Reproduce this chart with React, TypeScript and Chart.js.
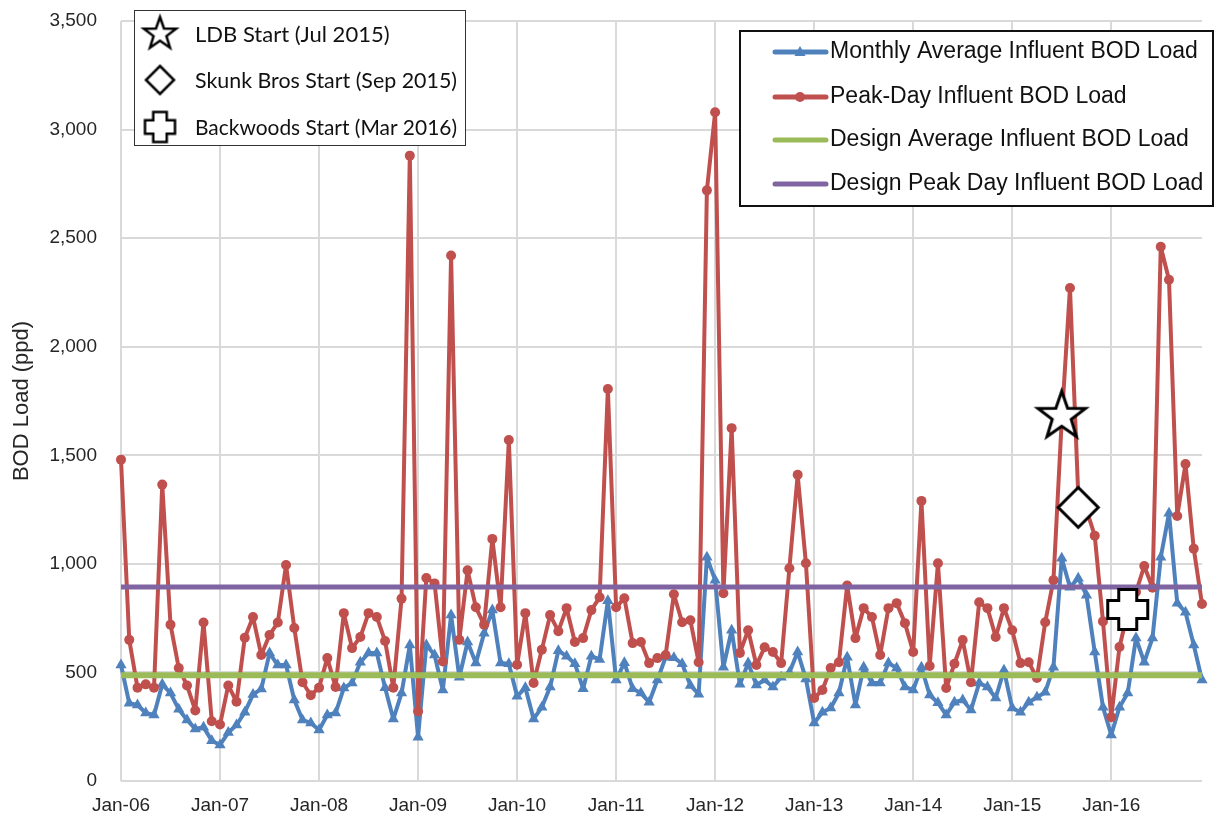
import React, { useEffect, useRef } from 'react';
import { Chart, registerables } from 'chart.js';

Chart.register(...registerables);

// ---------- data ----------
const tickMonths = [0, 12, 24, 36, 48, 60, 72, 84, 96, 108, 120];
const tickLabels = ['Jan-06', 'Jan-07', 'Jan-08', 'Jan-09', 'Jan-10', 'Jan-11', 'Jan-12', 'Jan-13', 'Jan-14', 'Jan-15', 'Jan-16'];

// Monthly Average Influent BOD Load (Jan 2006 .. Dec 2016)
const monthlyAvg = [
  534, 358, 350, 313, 304, 445, 405, 330, 281, 240, 248, 185,
  166, 223, 258, 317, 398, 424, 589, 534, 534, 373, 281, 267,
  235, 304, 313, 428, 451, 547, 589, 589, 430, 285, 405, 626,
  202, 626, 580, 419, 764, 478, 640, 543, 680, 787, 543, 540,
  390, 430, 285, 340, 433, 600, 575, 540, 425, 575, 560, 830,
  465, 545, 425, 405, 363, 465, 570, 568, 540, 440, 400, 1030,
  925, 524, 694, 445, 543, 442, 465, 433, 478, 500, 594, 470,
  267, 317, 336, 405, 570, 350, 524, 451, 451, 543, 520, 433,
  419, 524, 396, 360, 304, 363, 373, 327, 451, 433, 382, 510,
  336, 317, 363, 386, 409, 524, 1026, 892, 934, 856, 594, 340,
  212, 340, 405, 658, 547, 658, 1030, 1233, 819, 777, 626, 465,
];

// Peak-Day Influent BOD Load
const peakDay = [
  1480, 650, 430, 445, 430, 1365, 720, 520, 440, 325, 730, 275,
  260, 440, 365, 660, 755, 580, 672, 730, 995, 705, 455, 395,
  430, 566, 433, 773, 612, 663, 773, 755, 645, 430, 840, 2880,
  320, 935, 910, 550, 2420, 650, 970, 800, 720, 1115, 800, 1570,
  535, 773, 451, 605, 764, 690, 796, 640, 658, 787, 846, 1805,
  800, 842, 635, 640, 543, 566, 580, 860, 731, 740, 547, 2720,
  3080, 865, 1625, 590, 694, 534, 616, 594, 543, 980, 1410, 1003,
  382, 419, 520, 547, 900, 658, 796, 755, 580, 796, 819, 727,
  594, 1290, 530, 1003, 428, 540, 649, 455, 823, 796, 663, 796,
  694, 543, 547, 474, 731, 925, 1660, 2270, 1320, 1250, 1130, 735,
  294, 617, 777, 870, 990, 890, 2460, 2308, 1220, 1460, 1070, 815,
];

const designAvg = 487;
const designPeak = 893;

const seriesNames = [
  'Monthly Average Influent BOD Load',
  'Peak-Day Influent BOD Load',
  'Design Average Influent BOD Load',
  'Design Peak Day Influent BOD Load',
];
const seriesColors = ['#4F81BD', '#C0504D', '#9BBB59', '#8064A2'];

const eventNames = ['LDB Start (Jul 2015)', 'Skunk Bros Start (Sep 2015)', 'Backwoods Start (Mar 2016)'];
const eventShapes = ['star', 'diamond', 'cross'];
const eventMonths = [114, 116, 122];
const eventValues = [1680, 1260, 790];

// ---------- icon drawing ----------
function tracePath(ctx: CanvasRenderingContext2D, shape: string, cx: number, cy: number, s: number) {
  ctx.beginPath();
  if (shape === 'star') {
    const r = s * 0.4;
    for (let k = 0; k < 10; k++) {
      const a = -Math.PI / 2 + (k * Math.PI) / 5;
      const rr = k % 2 ? r : s;
      const px = cx + rr * Math.cos(a);
      const py = cy + rr * Math.sin(a);
      if (k === 0) ctx.moveTo(px, py);
      else ctx.lineTo(px, py);
    }
  } else if (shape === 'diamond') {
    ctx.moveTo(cx, cy - s);
    ctx.lineTo(cx + s, cy);
    ctx.lineTo(cx, cy + s);
    ctx.lineTo(cx - s, cy);
  } else {
    const a = s * 0.45;
    const pts = [
      [-a, -s], [a, -s], [a, -a], [s, -a], [s, a], [a, a],
      [a, s], [-a, s], [-a, a], [-s, a], [-s, -a], [-a, -a],
    ];
    pts.forEach(([dx, dy], i) => {
      if (i === 0) ctx.moveTo(cx + dx, cy + dy);
      else ctx.lineTo(cx + dx, cy + dy);
    });
  }
  ctx.closePath();
}

function makeIcon(shape: string, s: number, lw: number): HTMLCanvasElement {
  const c = document.createElement('canvas');
  const size = Math.ceil(2 * s + 5 * lw + 2);
  c.width = size;
  c.height = size;
  const ctx = c.getContext('2d') as CanvasRenderingContext2D;
  tracePath(ctx, shape, size / 2, size / 2, s);
  ctx.fillStyle = '#ffffff';
  ctx.fill();
  ctx.lineWidth = lw;
  ctx.strokeStyle = '#000000';
  ctx.lineJoin = 'miter';
  ctx.stroke();
  return c;
}

const chartIconSize: Record<string, number> = { star: 25, diamond: 20, cross: 20 };
const legendIconSize: Record<string, number> = { star: 17, diamond: 14, cross: 15 };
const axisFont = '"Liberation Sans", Arial, sans-serif';

export default function App() {
  const ref = useRef<HTMLCanvasElement | null>(null);

  useEffect(() => {
    const canvas = ref.current;
    if (!canvas) return;
    document.body.style.margin = '0';

    const chartIcons = eventShapes.map((s) => makeIcon(s, chartIconSize[s], 3));
    const legendIcons = eventShapes.map((s) => makeIcon(s, legendIconSize[s], 2.5));

    const legendPlugin = {
      id: 'customLegends',
      afterDraw(chart: any) {
        const ctx: CanvasRenderingContext2D = chart.ctx;
        ctx.save();
        // ---- left legend (events) ----
        ctx.fillStyle = '#ffffff';
        ctx.fillRect(134, 10, 331, 136);
        ctx.strokeStyle = '#333333';
        ctx.lineWidth = 1;
        ctx.strokeRect(134.5, 10.5, 331, 135);
        const leftRows = [34, 80, 127];
        eventNames.forEach((name, i) => {
          const ic = legendIcons[i];
          ctx.drawImage(ic, 160 - ic.width / 2, leftRows[i] - ic.height / 2);
          ctx.fillStyle = '#111111';
          ctx.font = '22px Lato';
          ctx.textBaseline = 'middle';
          ctx.textAlign = 'left';
          ctx.fillText(name, 195, leftRows[i] + 1, 262);
        });

        // ---- right legend (series) ----
        ctx.fillStyle = '#ffffff';
        ctx.fillRect(740, 31, 473, 175);
        ctx.strokeStyle = '#111111';
        ctx.lineWidth = 2;
        ctx.strokeRect(740, 31, 473, 175);
        const rightRows = [52, 97, 140, 184];
        seriesNames.forEach((name, i) => {
          const y = rightRows[i];
          ctx.strokeStyle = seriesColors[i];
          ctx.lineWidth = 5;
          ctx.lineCap = 'round';
          ctx.beginPath();
          ctx.moveTo(775, y);
          ctx.lineTo(826, y);
          ctx.stroke();
          ctx.fillStyle = seriesColors[i];
          if (i === 0) {
            ctx.beginPath();
            ctx.moveTo(800, y - 6);
            ctx.lineTo(805.5, y + 4);
            ctx.lineTo(794.5, y + 4);
            ctx.closePath();
            ctx.fill();
          } else if (i === 1) {
            ctx.beginPath();
            ctx.arc(800, y, 5, 0, Math.PI * 2);
            ctx.fill();
          }
          ctx.fillStyle = '#111111';
          ctx.font = '23px ' + axisFont;
          ctx.textBaseline = 'middle';
          ctx.textAlign = 'left';
          ctx.fillText(name, 830, y);
        });
        ctx.restore();
      },
    };

    const idx = monthlyAvg.map((_, i) => i);
    const lastMonth = monthlyAvg.length - 1;

    const eventDatasets = eventNames.map((name, i) => ({
      label: name,
      data: [{ x: eventMonths[i], y: eventValues[i] }],
      showLine: false,
      pointStyle: chartIcons[i] as any,
      pointRadius: 20,
      order: 1,
      clip: false as any,
    }));

    const chart = new Chart(canvas, {
      type: 'line',
      data: {
        datasets: [
          ...eventDatasets,
          {
            label: seriesNames[3],
            data: [{ x: 0, y: designPeak }, { x: lastMonth, y: designPeak }],
            borderColor: seriesColors[3],
            borderWidth: 5,
            pointRadius: 0,
            order: 2,
          },
          {
            label: seriesNames[2],
            data: [{ x: 0, y: designAvg }, { x: lastMonth, y: designAvg }],
            borderColor: seriesColors[2],
            borderWidth: 6,
            pointRadius: 0,
            order: 3,
          },
          {
            label: seriesNames[1],
            data: idx.map((i) => ({ x: i, y: peakDay[i] })),
            borderColor: seriesColors[1],
            backgroundColor: seriesColors[1],
            borderWidth: 4,
            borderJoinStyle: 'round',
            borderCapStyle: 'round',
            pointStyle: 'circle',
            pointRadius: 5,
            pointBorderWidth: 0,
            order: 4,
            clip: false as any,
          },
          {
            label: seriesNames[0],
            data: idx.map((i) => ({ x: i, y: monthlyAvg[i] })),
            borderColor: seriesColors[0],
            backgroundColor: seriesColors[0],
            borderWidth: 4,
            borderJoinStyle: 'round',
            borderCapStyle: 'round',
            pointStyle: 'triangle',
            pointRadius: 6.5,
            pointBorderWidth: 0,
            order: 5,
            clip: false as any,
          },
        ],
      },
      options: {
        animation: false,
        responsive: false,
        maintainAspectRatio: false,
        events: [],
        layout: { padding: { top: 20, right: 22, left: 0, bottom: 0 } },
        plugins: {
          legend: { display: false },
          tooltip: { enabled: false },
        },
        scales: {
          x: {
            type: 'linear',
            min: 0,
            max: lastMonth,
            afterBuildTicks: (axis: any) => {
              axis.ticks = tickMonths.map((v) => ({ value: v }));
            },
            afterFit: (axis: any) => {
              axis.height = 39;
            },
            ticks: {
              autoSkip: false,
              maxRotation: 0,
              padding: 13,
              color: '#262626',
              font: { family: axisFont, size: 19 },
              callback: (v: any) => {
                const k = tickMonths.indexOf(Number(v));
                return k >= 0 ? tickLabels[k] : '';
              },
            },
            grid: { color: '#d9d9d9', lineWidth: 2, drawTicks: false },
            border: { display: false },
          },
          y: {
            min: 0,
            max: 3500,
            afterFit: (axis: any) => {
              axis.width = 121;
              axis.paddingTop = 0;
              axis.paddingBottom = 0;
            },
            ticks: {
              stepSize: 500,
              padding: 24,
              color: '#262626',
              font: { family: axisFont, size: 19 },
              callback: (v: any) => Number(v).toLocaleString('en-US'),
            },
            title: {
              display: true,
              text: 'BOD Load (ppd)',
              color: '#262626',
              font: { family: axisFont, size: 22 },
              padding: { top: 9, bottom: 0 },
            },
            grid: { color: '#d9d9d9', lineWidth: 2, drawTicks: false },
            border: { display: false },
          },
        },
      },
      plugins: [legendPlugin],
    });

    return () => {
      chart.destroy();
    };
  }, []);

  return (
    <div style={{ position: 'fixed', left: 0, top: 0, width: 1224, height: 820, background: '#ffffff' }}>
      <canvas ref={ref} width={1224} height={820} style={{ display: 'block', width: 1224, height: 820 }} />
    </div>
  );
}
